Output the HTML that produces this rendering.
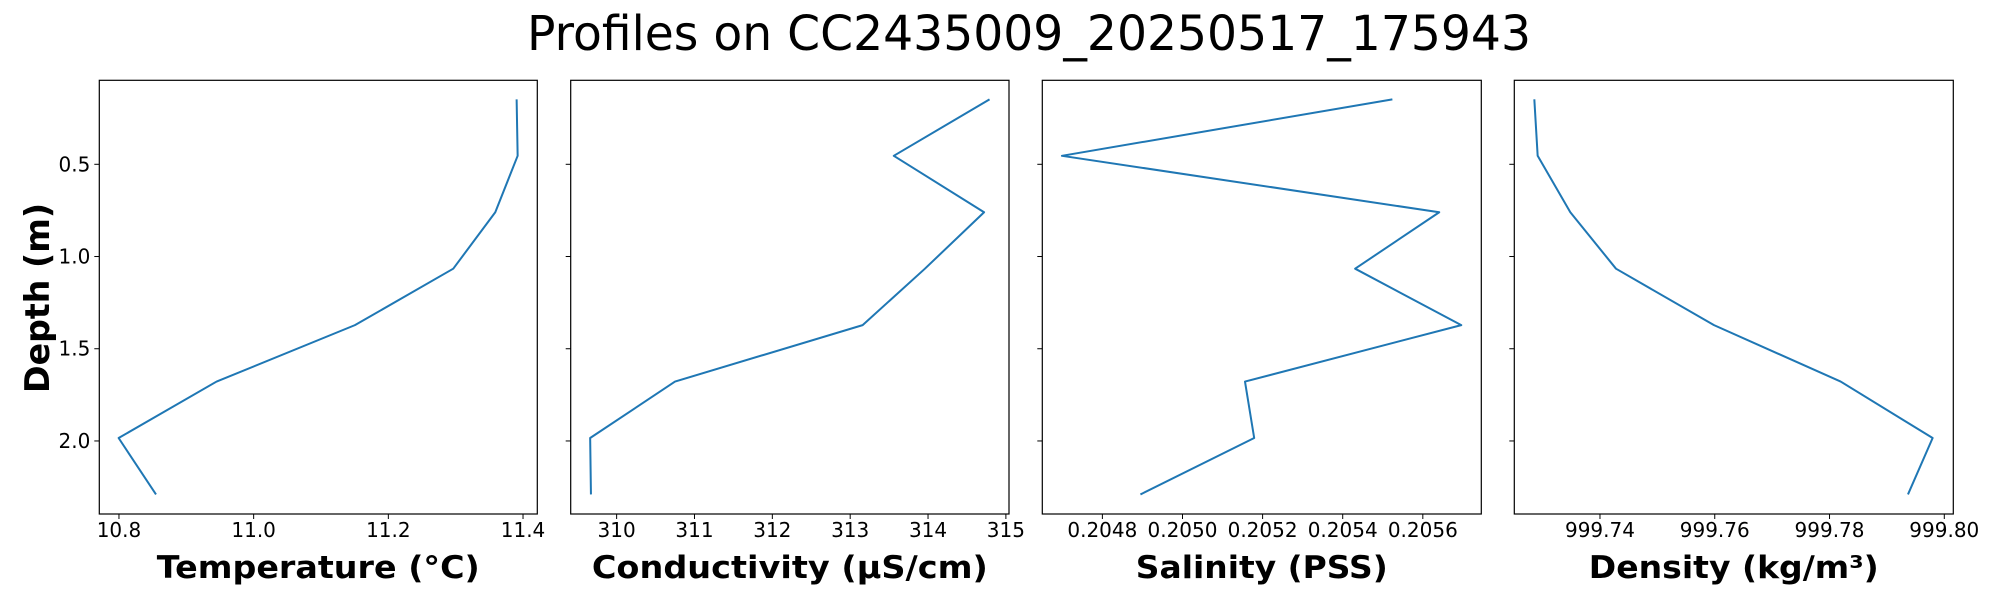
<!DOCTYPE html>
<html><head><meta charset="utf-8"><style>
body{margin:0;background:#fff}
svg{display:block;font-family:"DejaVu Sans","Liberation Sans",sans-serif}
</style></head><body>
<svg id="fig" width="2000" height="600" viewBox="0 0 2000 600">
<text x="1029" y="50" text-anchor="middle" font-size="48" textLength="1004" lengthAdjust="spacingAndGlyphs">Profiles on CC2435009_20250517_175943</text>
<text transform="translate(49,298) rotate(-90)" text-anchor="middle" font-size="34" font-weight="bold" textLength="190" lengthAdjust="spacingAndGlyphs">Depth (m)</text>
</svg>
<script>
const depths = [0.148, 0.454, 0.760, 1.066, 1.372, 1.678, 1.984, 2.290];
const temperature = [11.3905, 11.392, 11.3588, 11.2964, 11.1504, 10.945, 10.7995, 10.855];
const conductivity = [314.79, 313.56, 314.72, 313.96, 313.16, 310.75, 309.66, 309.67];
const salinity = [0.205524, 0.204699, 0.205641, 0.205431, 0.205696, 0.205156, 0.205179, 0.204895];
const density = [999.72856, 999.72914, 999.73483, 999.74279, 999.75987, 999.78194, 999.79797, 999.79367];
const depthTicks = [0.5, 1.0, 1.5, 2.0];
const tempTicks = [10.8, 11.0, 11.2, 11.4];
const condTicks = [310, 311, 312, 313, 314, 315];
const salTicks = [0.2048, 0.2050, 0.2052, 0.2054, 0.2056];
const densTicks = [999.74, 999.76, 999.78, 999.80];

const NS = 'http://www.w3.org/2000/svg';
const svgEl = document.getElementById('fig');
const plotTop = 80.3, plotBot = 514, dMin = 0.0446, dMax = 2.396;
function yScale(d){ return plotTop + (d - dMin) / (dMax - dMin) * (plotBot - plotTop); }
function mk(tag, attrs, parent){ const e = document.createElementNS(NS, tag); for (const k in attrs) e.setAttribute(k, attrs[k]); (parent||svgEl).appendChild(e); return e; }

const panels = [
  {key:'temperature', vals:temperature, ticks:tempTicks, dec:1, x0:99.3, x1:537.3, lo:10.7708, hi:11.4212, label:'Temperature (°C)', lw:323, yl:true},
  {key:'conductivity', vals:conductivity, ticks:condTicks, dec:0, x0:570.7, x1:1009, lo:309.41, hi:315.04, label:'Conductivity (µS/cm)', lw:396},
  {key:'salinity', vals:salinity, ticks:salTicks, dec:4, x0:1042.3, x1:1481.3, lo:0.20465, hi:0.205746, label:'Salinity (PSS)', lw:252},
  {key:'density', vals:density, ticks:densTicks, dec:2, x0:1514.3, x1:1953.3, lo:999.72507, hi:999.80157, label:'Density (kg/m³)', lw:290}
];
panels.forEach(p => {
  const g = mk('g', {});
  
  
  const xs = v => p.x0 + (v - p.lo) / (p.hi - p.lo) * (p.x1 - p.x0);
  p.ticks.forEach(t => {
    const x = xs(t);
    const tl = mk('line', {x1:x, x2:x, y1:plotBot, y2:plotBot+5, stroke:'#000', 'stroke-width':1}, g);
    
    
    const tx = mk('text', {x:x, y:537, 'text-anchor':'middle', 'font-size':20}, g);
    
    
    tx.textContent = t.toFixed(p.dec);
  });
  depthTicks.forEach(d => {
    const y = yScale(d);
    const yt = mk('line', {x1:p.x0-5, x2:p.x0, y1:y, y2:y, stroke:'#000', 'stroke-width':1}, g);
    
    
    if (p.yl) {
      const t = mk('text', {x:p.x0-9, y:y+7, 'text-anchor':'end', 'font-size':20}, g);
      
      
      t.textContent = d.toFixed(1);
    }
  });
  const pts = p.vals.map((v,i) => xs(v).toFixed(2) + ',' + yScale(depths[i]).toFixed(2)).join(' ');
  const line = mk('polyline', {points:pts, fill:'none', stroke:'#1f77b4', 'stroke-width':2, 'stroke-linejoin':'round'}, g);
  
  
  const frame = mk('rect', {x:p.x0, y:plotTop, width:p.x1-p.x0, height:plotBot-plotTop, fill:'none', stroke:'#000', 'stroke-width':1.2}, g);
  
  
  const lab = mk('text', {x:(p.x0+p.x1)/2, y:578, 'text-anchor':'middle', 'font-size':31, 'font-weight':'bold', textLength:p.lw, lengthAdjust:'spacingAndGlyphs'}, g);
  
  
  lab.textContent = p.label;
});
</script>
</body></html>
